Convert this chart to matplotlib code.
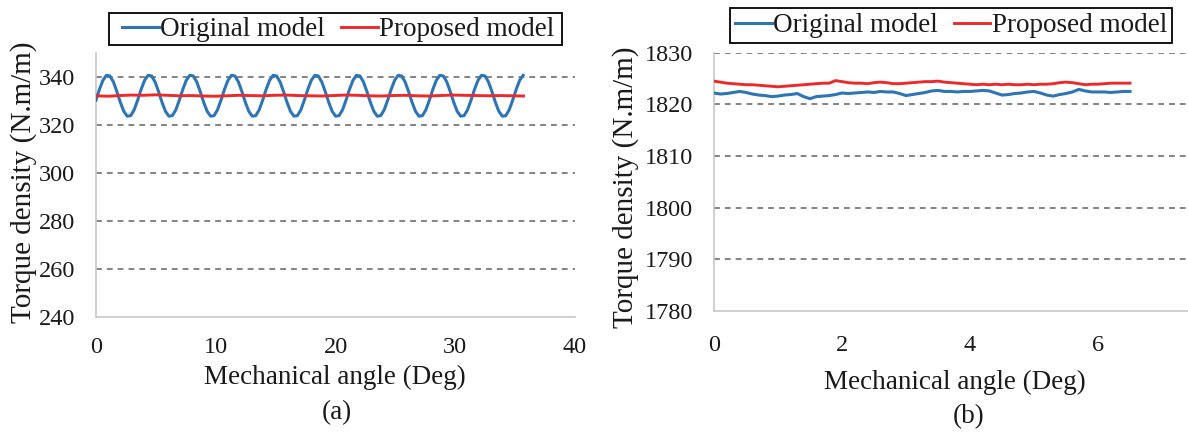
import numpy as np
import matplotlib
matplotlib.use("Agg")
import matplotlib.pyplot as plt
from matplotlib.patches import Rectangle

plt.rcParams['font.family'] = ['Liberation Serif', 'DejaVu Serif']

# ---------------- data: (a) ----------------
# Original model, sampled every 0.29 deg
orig_a_step = 0.29
orig_a = [
    330.49, 334.99, 338.76, 340.81, 340.57, 338.12, 334.11, 329.61, 325.84, 323.79, 324.03, 326.48,
    330.49, 334.99, 338.76, 340.81, 340.57, 338.12, 334.11, 329.61, 325.84, 323.79, 324.03, 326.48,
    330.49, 334.99, 338.76, 340.81, 340.57, 338.12, 334.11, 329.61, 325.84, 323.79, 324.03, 326.48,
    330.49, 334.99, 338.76, 340.81, 340.57, 338.12, 334.11, 329.61, 325.84, 323.79, 324.03, 326.48,
    330.49, 334.99, 338.76, 340.81, 340.57, 338.12, 334.11, 329.61, 325.84, 323.79, 324.03, 326.48,
    330.49, 334.99, 338.76, 340.81, 340.57, 338.12, 334.11, 329.61, 325.84, 323.79, 324.03, 326.48,
    330.49, 334.99, 338.76, 340.81, 340.57, 338.12, 334.11, 329.61, 325.84, 323.79, 324.03, 326.48,
    330.49, 334.99, 338.76, 340.81, 340.57, 338.12, 334.11, 329.61, 325.84, 323.79, 324.03, 326.48,
    330.49, 334.99, 338.76, 340.81, 340.57, 338.12, 334.11, 329.61, 325.84, 323.79, 324.03, 326.48,
    330.49, 334.99, 338.76, 340.81, 340.57, 338.12, 334.11, 329.61, 325.84, 323.79, 324.03, 326.48,
    330.49, 334.99, 338.76, 340.81,
]
# Proposed model
prop_a_end = 35.7
prop_a = [
    332.3, 332.1, 332.4, 332.6, 332.5, 332.7, 332.5, 332.3, 332.4, 332.2,
    332.1, 332.3, 332.5, 332.4, 332.3, 332.5, 332.6, 332.4, 332.3, 332.2,
    332.4, 332.6, 332.5, 332.3, 332.2, 332.4, 332.5, 332.3, 332.2, 332.4,
    332.6, 332.5, 332.4, 332.3, 332.4, 332.3, 332.2,
]

# ---------------- data: (b) ----------------
b_step = 0.1
orig_b = [
    1822.2, 1822.0, 1822.1, 1822.3, 1822.5, 1822.3, 1822.0, 1821.8, 1821.7, 1821.5,
    1821.6, 1821.8, 1821.9, 1822.1, 1821.5, 1821.1, 1821.5, 1821.6, 1821.7, 1821.9,
    1822.2, 1822.1, 1822.2, 1822.3, 1822.4, 1822.3, 1822.5, 1822.4, 1822.4, 1822.1,
    1821.7, 1821.9, 1822.1, 1822.3, 1822.6, 1822.7, 1822.5, 1822.5, 1822.4, 1822.5,
    1822.5, 1822.6, 1822.7, 1822.6, 1822.2, 1821.8, 1821.9, 1822.1, 1822.2, 1822.4,
    1822.5, 1822.2, 1821.8, 1821.6, 1821.9, 1822.1, 1822.4, 1822.9, 1822.6, 1822.4,
    1822.4, 1822.4, 1822.3, 1822.4, 1822.5, 1822.5,
]
prop_b = [
    1824.5, 1824.3, 1824.1, 1824.0, 1823.9, 1823.8, 1823.8, 1823.7, 1823.6, 1823.5,
    1823.4, 1823.5, 1823.6, 1823.7, 1823.8, 1823.9, 1824.0, 1824.1, 1824.1, 1824.6,
    1824.4, 1824.2, 1824.1, 1824.1, 1824.0, 1824.2, 1824.3, 1824.2, 1824.0, 1824.0,
    1824.1, 1824.2, 1824.3, 1824.4, 1824.4, 1824.5, 1824.3, 1824.2, 1824.1, 1824.0,
    1823.9, 1823.8, 1823.9, 1823.8, 1823.9, 1823.8, 1823.9, 1823.8, 1823.8, 1823.9,
    1823.8, 1823.9, 1823.9, 1824.0, 1824.2, 1824.3, 1824.2, 1824.0, 1823.8, 1823.9,
    1823.9, 1824.0, 1824.1, 1824.1, 1824.1, 1824.1,
]

series_names = ["Original model", "Proposed model"]
xticks_a = [0, 10, 20, 30, 40]
yticks_a = [240, 260, 280, 300, 320, 340]
xticks_b = [0, 2, 4, 6]
yticks_b = [1780, 1790, 1800, 1810, 1820, 1830]

BLUE = "#2E75B6"
RED = "#EC2A2C"
AXIS_GRAY = "#C8C8C8"
GRID_GRAY = "#6E6E6E"
TXT = "#1A1A1A"

W, H = 1188, 432
fig = plt.figure(figsize=(W / 100, H / 100), dpi=100)


def px_rect(left, right, bottom, top):
    return [left / W, 1 - bottom / H, (right - left) / W, (bottom - top) / H]


def style_axes(ax, xticks, yticks, xlim, ylim, xpad, ypad):
    ax.set_xlim(*xlim)
    ax.set_ylim(*ylim)
    ax.set_xticks(xticks)
    ax.set_yticks(yticks)
    for s in ("top", "right"):
        ax.spines[s].set_visible(False)
    for s in ("left", "bottom"):
        ax.spines[s].set_color(AXIS_GRAY)
        ax.spines[s].set_linewidth(1.2)
    ax.tick_params(axis="both", length=0, labelsize=17.5, labelcolor=TXT)
    ax.tick_params(axis="x", pad=xpad)
    ax.tick_params(axis="y", pad=ypad)
    for y in yticks[1:]:
        ax.axhline(y, color=GRID_GRAY, lw=1.2, ls=(0, (3.5, 3)), zorder=1)


# ----- panel (a) -----
ax1 = fig.add_axes(px_rect(96, 575, 317.3, 53.3))
style_axes(ax1, xticks_a, yticks_a, (0, 40), (240, 350), 14, 15)
xa = np.arange(len(orig_a)) * orig_a_step
xp = np.linspace(0, prop_a_end, len(prop_a))
l1, = ax1.plot(xa, orig_a, color=BLUE, lw=2.2, zorder=3)
l2, = ax1.plot(xp, prop_a, color=RED, lw=2.1, zorder=4)

# ----- panel (b) -----
ax2 = fig.add_axes(px_rect(714, 1226, 311, 52.7))
style_axes(ax2, xticks_b, yticks_b, (0, 8), (1780, 1830), 17, 15)
xb = np.arange(len(orig_b)) * b_step
ax2.plot(xb, orig_b, color=BLUE, lw=2.2, zorder=3)
ax2.plot(xb, prop_b, color=RED, lw=2.1, zorder=4)

# ----- legends with a square black frame -----
legend_boxes = [
    # content centre (px), frame (left, right, top, bottom) in px
    ((338.5, 29.5), (109, 562, 13, 45)),
    ((951, 25.5), (730, 1172, 8, 43)),
]
for (cx, cy), (fl, fr, ft, fb) in legend_boxes:
    fig.legend([l1, l2], series_names, loc="center",
               bbox_to_anchor=(cx / W, 1 - cy / H), ncol=2, fontsize=19.5,
               frameon=False, handlelength=1.35, handletextpad=0.05,
               columnspacing=0.6, borderpad=0.0, borderaxespad=0.0,
               labelcolor=TXT)
    fig.add_artist(Rectangle((fl / W, 1 - fb / H), (fr - fl) / W, (fb - ft) / H,
                             transform=fig.transFigure, fill=False,
                             edgecolor="black", linewidth=1.3))

# ----- axis labels and captions -----
fig.text(335 / W, 1 - 377 / H, "Mechanical angle (Deg)", ha="center", va="center",
         fontsize=19.5, color=TXT)
fig.text(955 / W, 1 - 382 / H, "Mechanical angle (Deg)", ha="center", va="center",
         fontsize=19.5, color=TXT)
fig.text(24 / W, 1 - 182 / H, "Torque density (N.m/m)", ha="center", va="center",
         rotation=90, fontsize=21, color=TXT)
fig.text(626 / W, 1 - 187 / H, "Torque density (N.m/m)", ha="center", va="center",
         rotation=90, fontsize=21, color=TXT)
fig.text(337 / W, 1 - 413 / H, "(a)", ha="center", va="center", fontsize=19.5, color=TXT)
fig.text(969 / W, 1 - 417 / H, "(b)", ha="center", va="center", fontsize=19.5, color=TXT)

fig.savefig("out.png", dpi=100)
